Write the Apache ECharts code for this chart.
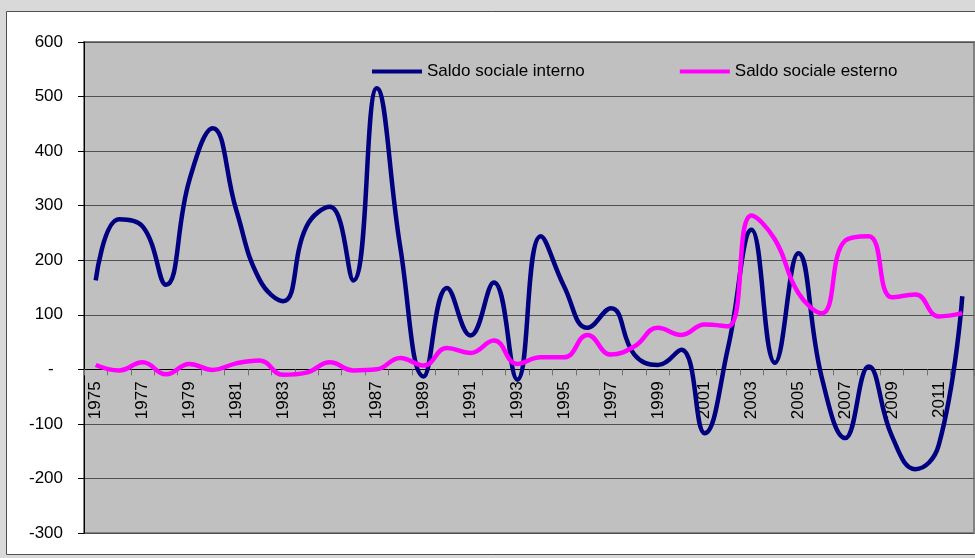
<!DOCTYPE html>
<html><head><meta charset="utf-8">
<script src="https://cdn.jsdelivr.net/npm/echarts@6/dist/echarts.min.js"></script>
<style>html,body{margin:0;padding:0;background:#d9d9d9;}#c{width:975px;height:558px;}</style>
</head><body><div id="c"></div>
<script>
var years = ['1975','1976','1977','1978','1979','1980','1981','1982','1983','1984','1985','1986','1987','1988','1989','1990','1991','1992','1993','1994','1995','1996','1997','1998','1999','2000','2001','2002','2003','2004','2005','2006','2007','2008','2009','2010','2011','2012'];
var interno = [163,275,262,155,347,442,292,164,125,262,298,163,515,225,-13,149,62,159,-19,244,152,76,112,27,8,36,-117,40,256,12,213,-15,-126,5,-123,-183,-138,134];
var esterno = [8,-2,13,-9,10,-1,11,16,-10,-6,13,-2,0,21,7,39,30,53,10,22,22,63,27,42,76,63,82,79,282,238,140,103,236,244,132,137,97,103];
var yTicks = {min:-300, max:600, step:100};
var names = ['Saldo sociale interno','Saldo sociale esterno'];

var chart = echarts.init(document.getElementById('c'));
var F = 'Liberation Sans, Arial, sans-serif';
var gridTop = 42, gridBottom = 25, H = 558;
var plotH = H - gridTop - gridBottom;
var zeroOffset = -plotH * (0 - yTicks.min) / (yTicks.max - yTicks.min);
chart.setOption({
  backgroundColor: '#d9d9d9',
  animation: false,
  graphic: [{type:'rect', z:-10, shape:{x:6.5,y:11.5,width:975,height:543}, style:{fill:'#ffffff', stroke:'#505050', lineWidth:1}}],
  grid: {left:84, top:gridTop, right:1, bottom:gridBottom, show:true, backgroundColor:'#c0c0c0', borderColor:'#808080', borderWidth:2, containLabel:false, outerBoundsMode:'none'},
  legend: {left:367, top:58, itemWidth:50, itemHeight:4, itemGap:95, icon:'rect',
    textStyle:{fontFamily:F, fontSize:17, color:'#000'}, data:names},
  xAxis: {type:'category', data:years, boundaryGap:true, offset: zeroOffset,
    axisLine:{onZero:false, lineStyle:{color:'#000', width:1}},
    axisTick:{show:true, interval:0, length:6, lineStyle:{color:'#707070'}},
    axisLabel:{interval:1, rotate:90, margin:12, fontFamily:F, fontSize:17, color:'#000', hideOverlap:false},
    splitLine:{show:false}},
  yAxis: {type:'value', min:yTicks.min, max:yTicks.max, interval:yTicks.step,
    axisLine:{show:true, lineStyle:{color:'#000', width:1}},
    axisTick:{show:true, length:6, lineStyle:{color:'#000'}},
    axisLabel:{margin:21, fontFamily:F, fontSize:17, color:'#000',
      formatter:function(v){return v===0?'-  ':String(v);}},
    splitLine:{show:true, lineStyle:{color:'#505050', width:1}}},
  series: [
    {name:names[0], type:'line', data:interno, smooth:0.45, symbol:'none', color:'#000080', lineStyle:{width:4.5, color:'#000080'}, z:3},
    {name:names[1], type:'line', data:esterno, smooth:0.45, symbol:'none', color:'#ff00ff', lineStyle:{width:4.5, color:'#ff00ff'}, z:4}
  ]
});
</script></body></html>
